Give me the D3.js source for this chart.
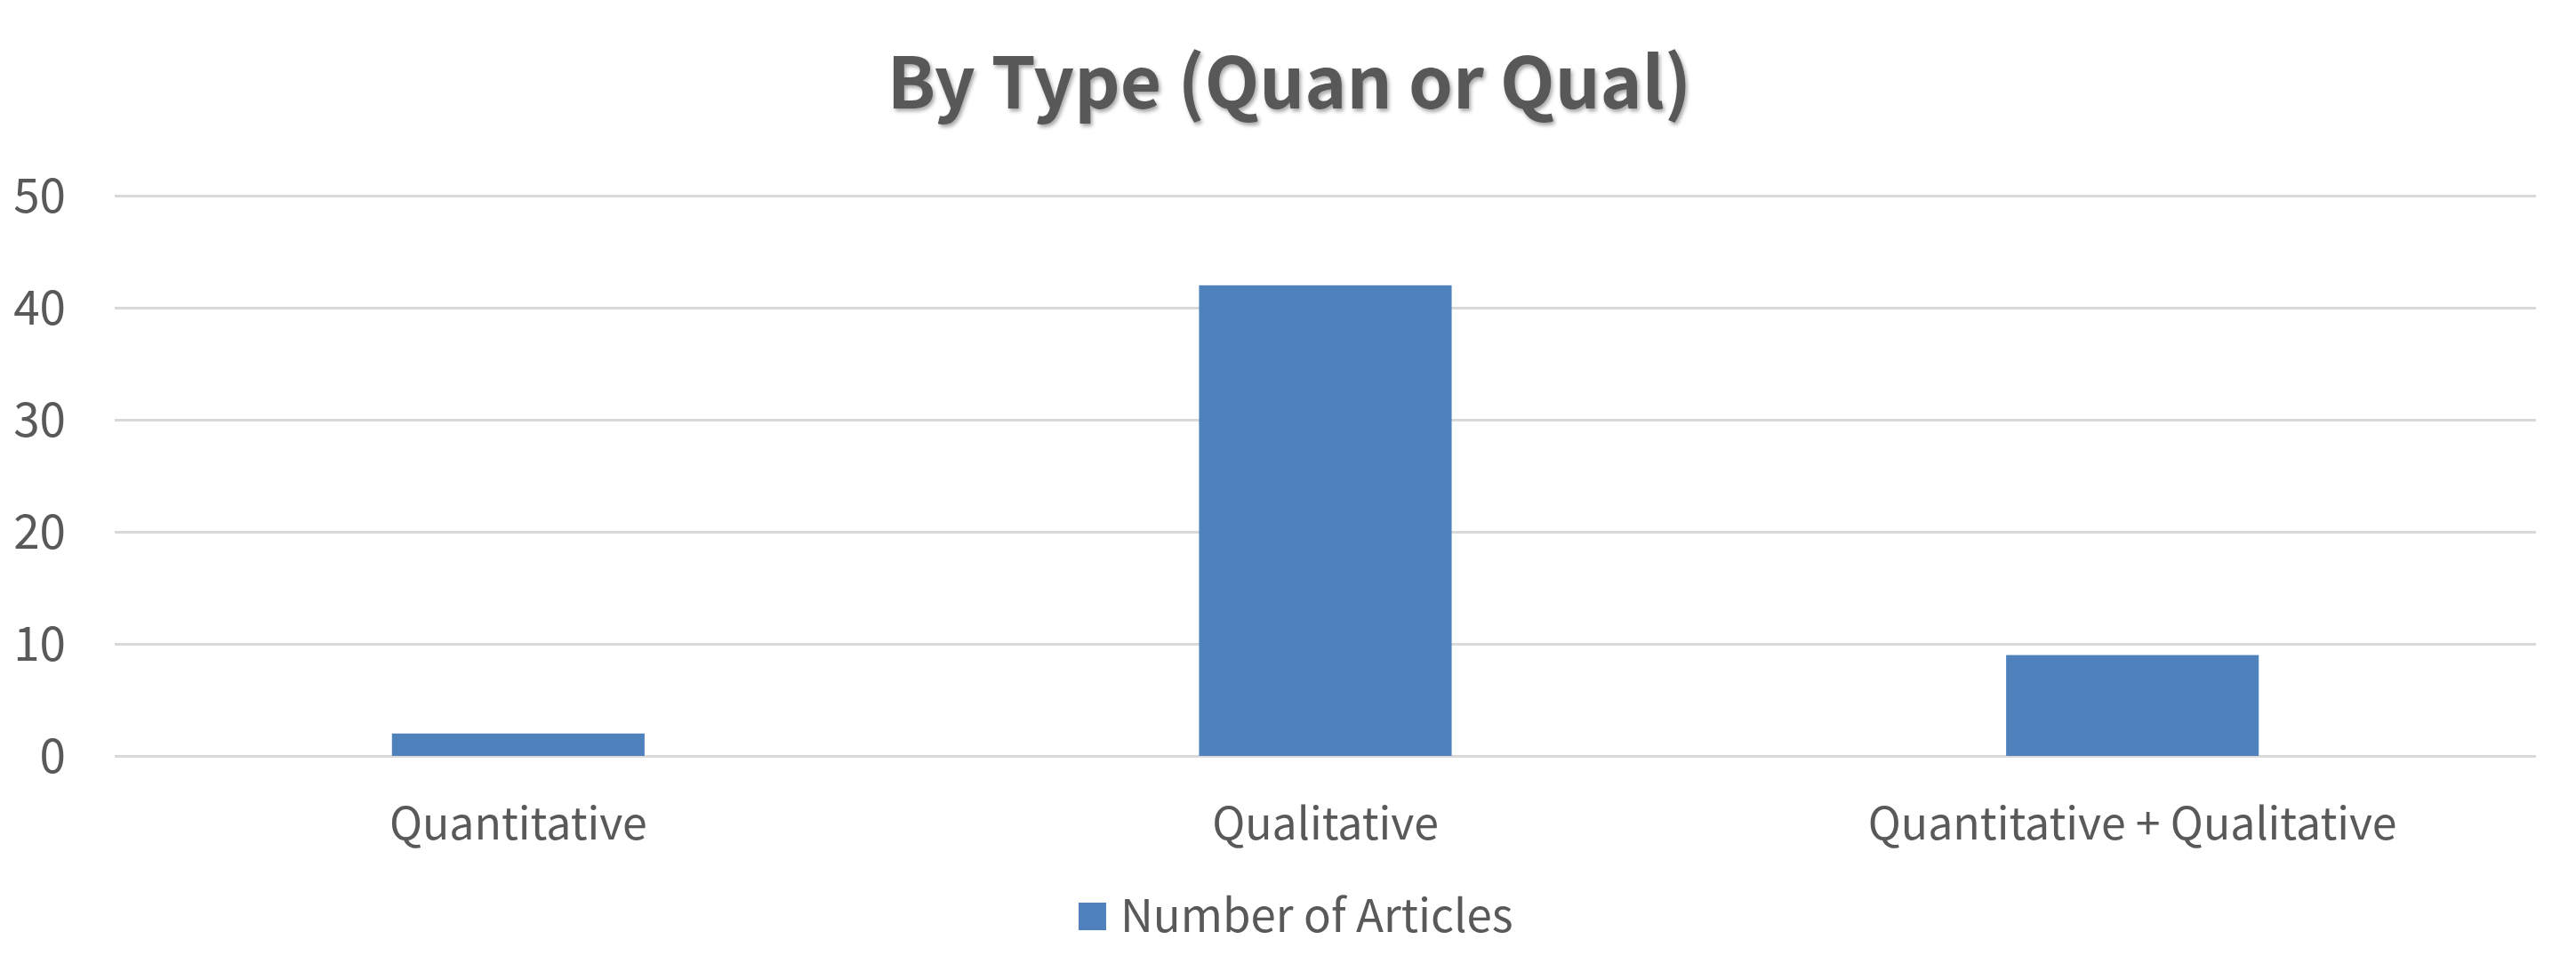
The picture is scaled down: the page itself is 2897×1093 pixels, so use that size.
<!DOCTYPE html>
<html>
<head>
<meta charset="utf-8">
<script src="https://cdn.jsdelivr.net/npm/d3@7"></script>
<style>
  body { margin: 0; background: #fff; }
  svg text { font-family: "Noto Sans CJK KR", "Open Sans", sans-serif; fill: #595959; }
</style>
</head>
<body>
<div id="container"></div>
<script>
/* DATA */
const categories = ["Quantitative", "Qualitative", "Quantitative + Qualitative"];
const articleCounts = [2, 42, 9];
const seriesName = "Number of Articles";
const yTicks = [0, 10, 20, 30, 40, 50];
const chartTitle = "By Type (Quan or Qual)";

/* CONSTANTS */
const width = 2897,
  height = 1093,
  margin = { top: 220, bottom: 243, left: 129, right: 45 };

const svg = d3.select("#container")
  .append("svg")
  .attr("width", width)
  .attr("height", height);

// shadow for the title
const defs = svg.append("defs");
defs.append("filter")
  .attr("id", "shadow")
  .attr("x", "-5%").attr("y", "-20%")
  .attr("width", "110%").attr("height", "150%")
  .append("feDropShadow")
  .attr("dx", 2).attr("dy", 3)
  .attr("stdDeviation", 2)
  .attr("flood-color", "#000")
  .attr("flood-opacity", 0.35);

// SCALES
const xScale = d3.scaleBand()
  .domain(categories)
  .range([margin.left, width - margin.right])
  .paddingInner(0.687)
  .paddingOuter(0.3435);

const yScale = d3.scaleLinear()
  .domain([0, 50])
  .range([height - margin.bottom, margin.top]);

// Y AXIS + GRIDLINES
const yAxis = d3.axisLeft(yScale)
  .tickValues(yTicks)
  .tickSize(-(width - margin.left - margin.right))
  .tickPadding(55);

svg.append("g")
  .attr("transform", `translate(${margin.left},0)`)
  .call(yAxis)
  .call(g => g.select(".domain").remove())
  .call(g => g.selectAll(".tick line").attr("stroke", "#d9d9d9").attr("stroke-width", 3))
  .call(g => g.selectAll(".tick text")
    .attr("font-size", 53)
    .attr("dy", "0.34em")
    .style("font-family", null));

// BARS
svg.selectAll(".bar")
  .data(articleCounts)
  .join("rect")
  .attr("class", "bar")
  .attr("x", (d, i) => xScale(categories[i]))
  .attr("y", d => yScale(d))
  .attr("width", xScale.bandwidth())
  .attr("height", d => yScale(0) - yScale(d))
  .attr("fill", "#4f81bd");

// X AXIS
const xAxis = d3.axisBottom(xScale).tickSize(0).tickPadding(0);

svg.append("g")
  .attr("transform", `translate(0,${yScale(0)})`)
  .call(xAxis)
  .call(g => g.select(".domain").remove())
  .call(g => g.selectAll(".tick text")
    .attr("font-size", 50)
    .attr("y", 94)
    .attr("dy", 0));

// TITLE
svg.append("text")
  .attr("x", 1450)
  .attr("y", 122)
  .attr("text-anchor", "middle")
  .attr("font-size", 80)
  .attr("font-weight", "bold")
  .attr("filter", "url(#shadow)")
  .text(chartTitle);

// LEGEND
const legend = svg.append("g").attr("transform", "translate(1213,1015)");
legend.append("rect")
  .attr("width", 31)
  .attr("height", 31)
  .attr("fill", "#4f81bd");
legend.append("text")
  .attr("x", 47)
  .attr("y", 33)
  .attr("font-size", 51)
  .text(seriesName);
</script>
</body>
</html>
